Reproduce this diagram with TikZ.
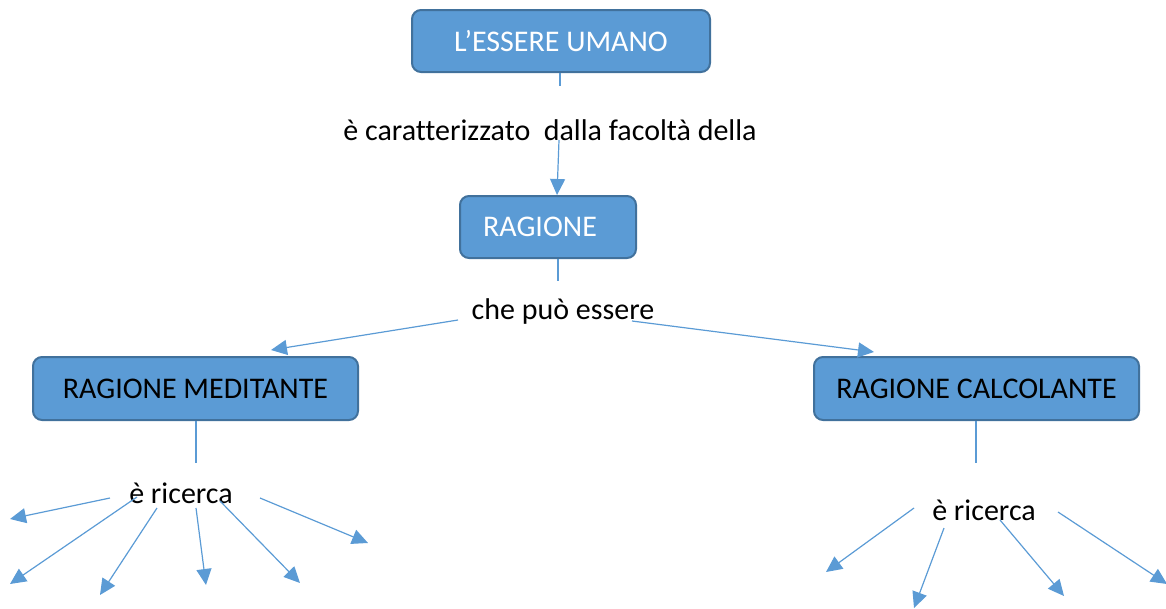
\documentclass[tikz,border=0pt]{standalone}
\usepackage{fontspec}
\setmainfont[Ligatures={NoCommon,NoContextual}]{Carlito}
\usetikzlibrary{arrows.meta}
\definecolor{boxfill}{HTML}{5B9BD5}
\definecolor{boxdraw}{HTML}{41719C}
\definecolor{conn}{HTML}{5B9BD5}
\tikzset{
  conbox/.style={draw=boxdraw, fill=boxfill, line width=2pt, rounded corners=9pt, anchor=north west, inner sep=0pt, font=\fontsize{30}{34}\selectfont},
  lbl/.style={inner sep=0pt, font=\fontsize{30}{34}\selectfont},
  link/.style={draw=conn, line width=1.2pt},
  arr/.style={link, -{Triangle[length=16pt,width=15pt]}}
}
\begin{document}
\begin{tikzpicture}[x=1pt,y=-1pt]
\useasboundingbox (0,0) rectangle (1166,608);
% boxes
\node[conbox, minimum width=298pt, minimum height=62pt, text=white] (uomo) at (411,9) {L’ESSERE UMANO};
\node[conbox, minimum width=176pt, minimum height=62pt, text=white] (rag) at (459,195) {RAGIONE\kern16pt\relax};
\node[conbox, minimum width=325pt, minimum height=63pt, text=black] (med) at (32,356) {RAGIONE MEDITANTE};
\node[conbox, minimum width=325pt, minimum height=63pt, text=black] (cal) at (813,356) {RAGIONE CALCOLANTE};
% labels
\node[lbl] (t1) at (550,130) {è caratterizzato\ \ dalla facoltà della};
\node[lbl] (t2) at (563,311) {che può essere};
\node[lbl] (t3) at (181,493) {è ricerca};
\node[lbl] (t4) at (984,510) {è ricerca};
% top connectors
\coordinate (c1) at (560,86);
\coordinate (c2) at (559,140);
\draw[link] (uomo.south -| c1) -- (c1);
\draw[arr] (c2) -- (rag.north -| 557,0);
\coordinate (c3) at (558,281);
\draw[link] (rag.south -| c3) -- (c3);
\coordinate (s1) at (458,320); \coordinate (e1) at (271,350);
\coordinate (s2) at (632,321); \coordinate (e2) at (874,352);
\draw[arr] (s1) -- (e1);
\draw[arr] (s2) -- (e2);
% meditante
\coordinate (c4) at (196,463);
\draw[link] (med.south -| c4) -- (c4);
\coordinate (m1s) at (110,498); \coordinate (m1e) at (10,519);
\coordinate (m2s) at (137,497); \coordinate (m2e) at (10,584);
\coordinate (m3s) at (157,508); \coordinate (m3e) at (100,595);
\coordinate (m4s) at (196,508); \coordinate (m4e) at (206,585);
\coordinate (m5s) at (220,501); \coordinate (m5e) at (300,583);
\coordinate (m6s) at (260,498); \coordinate (m6e) at (368,543);
\foreach \i in {1,...,6} \draw[arr] (m\i s) -- (m\i e);
% calcolante
\coordinate (c5) at (976,463);
\draw[link] (cal.south -| c5) -- (c5);
\coordinate (k1s) at (914,508); \coordinate (k1e) at (826,572);
\coordinate (k2s) at (944,528); \coordinate (k2e) at (914,608);
\coordinate (k3s) at (1000,520); \coordinate (k3e) at (1064,596);
\coordinate (k4s) at (1058,512); \coordinate (k4e) at (1167,584);
\foreach \i in {1,...,4} \draw[arr] (k\i s) -- (k\i e);
\end{tikzpicture}
\end{document}
